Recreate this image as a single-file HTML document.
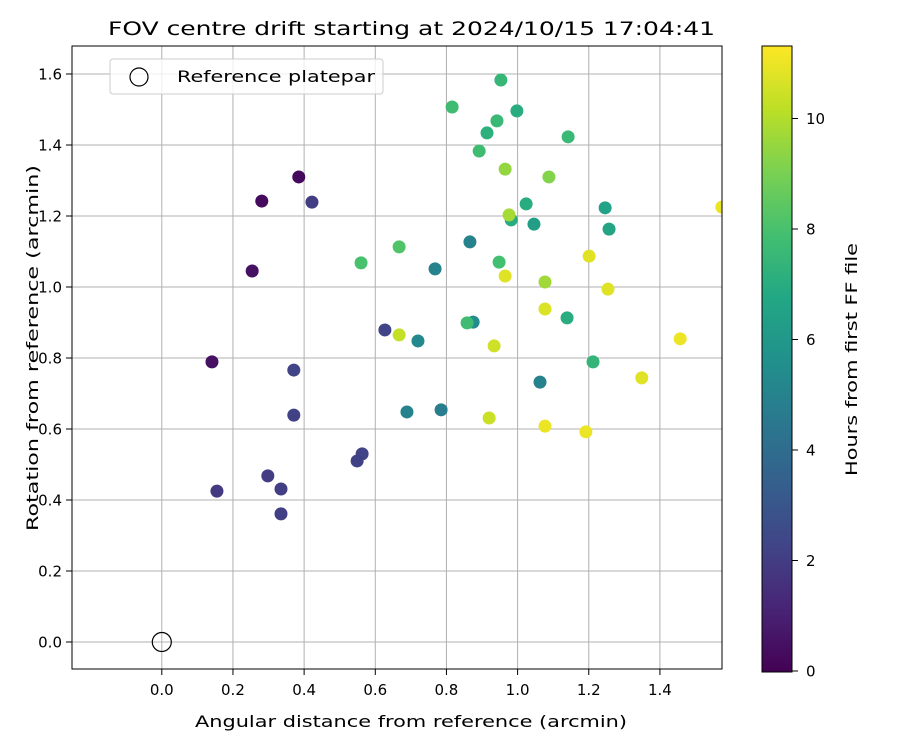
<!DOCTYPE html>
<html><head><meta charset="utf-8"><style>
body{margin:0;background:#fff;font-family:"DejaVu Sans","Liberation Sans",sans-serif}
svg text{font-family:"DejaVu Sans","Liberation Sans",sans-serif;fill:#000}
.tick{font-size:15px}
.lab{font-size:16px}
</style></head><body>
<svg id="chart" width="900" height="750" viewBox="0 0 900 750">
<defs>
<clipPath id="plotclip"><rect x="72" y="46" width="650" height="623"/></clipPath>
<linearGradient id="viridis" x1="0" y1="1" x2="0" y2="0">
<stop offset="0" stop-color="#440154"/><stop offset="0.1" stop-color="#482475"/><stop offset="0.2" stop-color="#414487"/><stop offset="0.3" stop-color="#355f8d"/><stop offset="0.4" stop-color="#2a788e"/><stop offset="0.5" stop-color="#21918c"/><stop offset="0.6" stop-color="#22a884"/><stop offset="0.7" stop-color="#44bf70"/><stop offset="0.8" stop-color="#7ad151"/><stop offset="0.9" stop-color="#bddf26"/><stop offset="1" stop-color="#fde725"/>
</linearGradient>
</defs>
<text x="108" y="35" style="font-size:19px" textLength="607" lengthAdjust="spacingAndGlyphs">FOV centre drift starting at 2024/10/15 17:04:41</text>
<g id="grid"></g>
<g id="points" clip-path="url(#plotclip)"></g>
<rect x="72" y="46" width="650" height="623" fill="none" stroke="#000" stroke-width="1"/>
<g id="ticks"></g>
<text x="195" y="727" class="lab" textLength="432" lengthAdjust="spacingAndGlyphs">Angular distance from reference (arcmin)</text>
<text transform="translate(38,531) rotate(-90)" class="lab" textLength="366" lengthAdjust="spacingAndGlyphs">Rotation from reference (arcmin)</text>
<g>
<rect x="110" y="59" width="273" height="35" rx="3" fill="#fff" fill-opacity="0.8" stroke="#ccc"/>
<circle cx="139" cy="77" r="9" fill="none" stroke="#000" stroke-width="1.2"/>
<text x="177" y="82" class="lab" textLength="198" lengthAdjust="spacingAndGlyphs">Reference platepar</text>
</g>
<rect x="762" y="46" width="30" height="626" fill="url(#viridis)" stroke="#000" stroke-width="1"/>
<g id="cbticks"></g>
<text transform="translate(857,476) rotate(-90)" class="lab" textLength="233" lengthAdjust="spacingAndGlyphs">Hours from first FF file</text>
</svg>
<script>
const xVals=[0.385,0.281,0.254,0.141,0.422,0.627,0.371,0.371,0.563,0.549,0.298,0.335,0.335,0.155,0.768,0.720,0.689,0.785,0.866,0.875,1.063,0.953,0.816,0.998,0.914,0.942,1.142,0.892,1.024,0.982,1.046,1.246,1.257,0.560,0.667,0.948,0.858,1.139,1.212,0.965,1.088,0.976,0.965,1.077,0.667,0.934,1.077,1.201,1.254,1.457,1.349,0.920,1.077,1.192,1.574];
const yVals=[1.310,1.242,1.045,0.789,1.239,0.879,0.766,0.639,0.530,0.510,0.468,0.431,0.361,0.425,1.051,0.848,0.648,0.654,1.127,0.901,0.732,1.583,1.507,1.496,1.434,1.468,1.423,1.383,1.234,1.189,1.177,1.223,1.163,1.068,1.113,1.070,0.899,0.913,0.789,1.332,1.310,1.203,1.031,1.014,0.865,0.834,0.938,1.087,0.994,0.854,0.744,0.631,0.608,0.592,1.225];
const hours=[0.3,0.3,0.5,0.5,2,2.3,2.3,2.2,2.3,2.2,2,2.1,2.1,1.9,5,5.3,5,4.8,5,5.5,5,7.5,7.8,7,7.2,7.6,7.6,7.8,7,7,6.3,6.5,6.6,8,8.2,7.9,7.8,7,7.4,9.5,9.2,9.8,10.8,9.7,10.3,10.5,10.7,10.8,10.8,11,10.8,10.4,11,11,11];
const xTicks=[0.0,0.2,0.4,0.6,0.8,1.0,1.2,1.4];
const yTicks=[0.0,0.2,0.4,0.6,0.8,1.0,1.2,1.4,1.6];
const cTicks=[0,2,4,6,8,10];
const hMax=11.32;
const X=v=>161.8+v*355.8, Y=v=>642-v*355, C=h=>671-h*55.25;
const NS='http://www.w3.org/2000/svg';
const vir=["#440154","#482475","#414487","#355f8d","#2a788e","#21918c","#22a884","#44bf70","#7ad151","#bddf26","#fde725"].map(h=>[1,3,5].map(i=>parseInt(h.substr(i,2),16)));
function cmap(h){let t=Math.max(0,Math.min(1,h/hMax))*10,i=Math.min(9,Math.floor(t)),f=t-i;const c=vir[i].map((a,k)=>Math.round(a+(vir[i+1][k]-a)*f));return `rgb(${c})`;}
function mk(tag,at,parent){const e=document.createElementNS(NS,tag);for(const k in at)e.setAttribute(k,at[k]);parent.appendChild(e);return e;}
const grid=document.getElementById('grid'),ticks=document.getElementById('ticks'),pts=document.getElementById('points'),cb=document.getElementById('cbticks');
xTicks.forEach(v=>{const x=X(v);
 const g=mk('line',{x1:x,x2:x,y1:46,y2:669,stroke:'#b0b0b0','stroke-width':1},grid);
 
 
 mk('line',{x1:x,x2:x,y1:669,y2:675,stroke:'#000'},ticks);
 const t=mk('text',{x:x,y:695,'class':'tick','text-anchor':'middle'},ticks);t.textContent=v.toFixed(1);
 
 });
yTicks.forEach(v=>{const y=Y(v);
 const g=mk('line',{x1:72,x2:722,y1:y,y2:y,stroke:'#b0b0b0','stroke-width':1},grid);
 
 
 mk('line',{x1:66,x2:72,y1:y,y2:y,stroke:'#000'},ticks);
 const t=mk('text',{x:62,y:y+5.5,'class':'tick','text-anchor':'end'},ticks);t.textContent=v.toFixed(1);
 
 });
xVals.forEach((v,i)=>{const c=mk('circle',{cx:X(v),cy:Y(yVals[i]),r:6.5,fill:cmap(hours[i])},pts);
 
 });
const ref=mk('circle',{cx:X(0),cy:Y(0),r:9.5,fill:'none',stroke:'#000','stroke-width':1.2},pts);


cTicks.forEach(h=>{const y=C(h);
 mk('line',{x1:792,x2:798,y1:y,y2:y,stroke:'#000'},cb);
 const t=mk('text',{x:806,y:y+5.5,'class':'tick'},cb);t.textContent=h;
 
 });
</script>
</body></html>
